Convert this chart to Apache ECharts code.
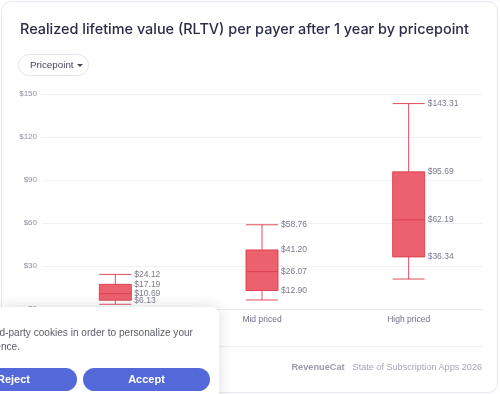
<!DOCTYPE html>
<html><head><meta charset="utf-8">
<script src="https://cdn.jsdelivr.net/npm/echarts@6/dist/echarts.min.js"></script>
<style>
html,body{margin:0;padding:0;width:500px;height:394px;overflow:hidden;background:#fff;font-family:"Liberation Sans",Arial,sans-serif;}
#card{position:absolute;left:1px;top:1px;width:495px;height:390px;border:1px solid #e5e7f6;border-radius:10px;}
#chart{position:absolute;left:0;top:0;width:500px;height:394px;}
#btn{position:absolute;left:18px;top:54px;width:69px;height:20px;border:1px solid #e4e5ee;border-radius:11px;font-size:9.8px;color:#45475c;line-height:20px;box-sizing:content-box;}
#btn span{position:absolute;left:11px;top:0;}
#btn i{position:absolute;left:58px;top:9px;width:0;height:0;border-left:3px solid transparent;border-right:3px solid transparent;border-top:3px solid #45475c;}
#hr{position:absolute;left:18px;top:346px;width:464px;height:1px;background:#eeeff5;}
#foot{position:absolute;right:18px;top:359px;font-size:9.1px;color:#a4a6b6;white-space:nowrap;line-height:16px;}
#foot b{font-weight:700;font-size:9.2px;color:#9a9cac;margin-right:8px;}
#banner{position:absolute;left:0;top:307px;width:219px;height:100px;background:#fff;border-top-right-radius:8px;box-shadow:0 0 14px rgba(40,40,70,0.16);overflow:hidden;}
.ln{position:absolute;white-space:nowrap;font-size:10.1px;color:#5b5c6b;line-height:14px;}
.b{position:absolute;top:61px;height:23px;width:127px;border-radius:12px;background:#5469d9;color:#fff;font-weight:700;font-size:11px;line-height:23px;text-align:center;}
</style></head>
<body>
<div id="card"></div>
<div id="chart"></div>
<div id="btn"><span>Pricepoint</span><i></i></div>
<div id="hr"></div>
<div id="foot"><b>RevenueCat</b>State of Subscription Apps 2026</div>
<div id="banner">
  <div class="ln" style="right:26px;top:19px;">We use third-party cookies in order to personalize your</div>
  <div class="ln" style="right:199px;top:33px;">experience.</div>
  <div class="b" style="left:-50px;">Reject</div>
  <div class="b" style="left:83px;">Accept</div>
</div>
<script>
const titleText = 'Realized lifetime value (RLTV) per payer after 1 year by pricepoint';
const categories = ['Low priced', 'Mid priced', 'High priced'];
const minValues = [3.3, 6.3, 20.9];
const q1Values = [6.13, 12.90, 36.34];
const medianValues = [10.69, 26.07, 62.19];
const q3Values = [17.19, 41.20, 95.69];
const maxValues = [24.12, 58.76, 143.31];
const yTicks = [0, 30, 60, 90, 120, 150];

const boxData = categories.map((c, i) => [minValues[i], q1Values[i], medianValues[i], q3Values[i], maxValues[i]]);
const labelData = [];
categories.forEach((c, i) => {
  [maxValues[i], q3Values[i], medianValues[i], q1Values[i]].forEach(v => labelData.push([i, v]));
});

// fit title font size to the reference title width
const cv = document.createElement('canvas').getContext('2d');
cv.font = '500 20px Inter';
const titleSize = Math.min(17, 20 * 449 / cv.measureText(titleText).width);

const chart = echarts.init(document.getElementById('chart'), null, {renderer: 'canvas'});
chart.setOption({
  animation: false,
  title: {
    text: titleText, left: 15, top: 18,
    textStyle: {fontFamily: 'Inter', fontSize: titleSize, fontWeight: 500, color: '#2b2d48'}
  },
  grid: {left: 42, right: 18, top: 94, bottom: 85},
  xAxis: {
    type: 'category', data: categories,
    axisLine: {lineStyle: {color: '#e9eaf0'}},
    axisTick: {show: false},
    axisLabel: {color: '#6f7183', fontSize: 8.5, margin: 6, fontFamily: 'Liberation Sans'},
    splitLine: {show: false}
  },
  yAxis: {
    type: 'value', min: yTicks[0], max: yTicks[yTicks.length - 1], interval: 30,
    axisLine: {show: false}, axisTick: {show: false},
    axisLabel: {color: '#8d8fa0', fontSize: 8, margin: 5, fontFamily: 'Liberation Sans', formatter: v => '$' + v},
    splitLine: {lineStyle: {color: '#f0f1f4'}}
  },
  series: [
    {
      type: 'boxplot', data: boxData, boxWidth: [32, 32],
      itemStyle: {color: '#ea505e', borderColor: '#dc3c4c', borderWidth: 1, opacity: 0.9},
      emphasis: {disabled: true}
    },
    {
      type: 'scatter', data: labelData, symbolSize: 0,
      itemStyle: {color: 'rgba(0,0,0,0)'},
      label: {
        show: true, position: 'right', distance: 19, offset: [0, -4],
        fontSize: 8.5, lineHeight: 8.6, color: '#55576c', fontFamily: 'Liberation Sans',
        formatter: p => '$' + p.value[1].toFixed(2)
      },
      labelLayout: {moveOverlap: 'shiftY'},
      silent: true
    }
  ]
});
</script>
</body></html>
